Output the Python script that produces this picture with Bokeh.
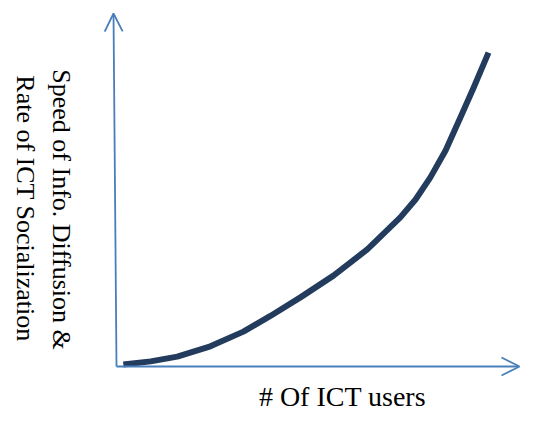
import math
from bokeh.plotting import figure
from bokeh.models import Range1d, Arrow, OpenHead, Label
from bokeh.embed import file_html
from bokeh.resources import INLINE

# ---- data (conceptual curve, arbitrary units 0..100) ----
ict_users = [1.8, 9, 16, 24.7, 33.4, 40.5, 48.4, 57.1, 66, 74.7, 78.7, 82.6, 86.6, 90.5, 94, 97.9]
diffusion_speed = [0.6, 1.6, 3.1, 6.3, 10.9, 15.8, 21.6, 28.4, 36.6, 46.6, 52.2, 59.1, 67.5, 77.8, 87.2, 98.1]

x_label = "# Of ICT users"
y_label_line1 = "Speed of Info. Diffusion &"
y_label_line2 = "Rate of ICT Socialization"

# ---- layout helpers (canvas pixel -> data units) ----
OX, OY = 116.0, 366.0   # origin on the canvas
SX, SY = 3.8, 3.2       # pixels per unit
W, H = 521, 412

def px(xp):
    return (xp - OX) / SX

def py(yp):
    return (OY - yp) / SY

p = figure(width=W, height=H,
           x_range=Range1d(px(0), px(W)),
           y_range=Range1d(py(H), py(0)),
           output_backend="svg", toolbar_location=None, min_border=0)
p.axis.visible = False
p.grid.visible = False
p.outline_line_color = None
p.background_fill_color = "white"
p.border_fill_color = "white"

axis_color = "#4a7ebb"
# y axis arrow
p.add_layout(Arrow(end=OpenHead(size=18, line_color=axis_color, line_width=1.8),
                   x_start=0, y_start=0, x_end=px(113), y_end=py(13),
                   line_color=axis_color, line_width=1.8))
# x axis arrow
p.add_layout(Arrow(end=OpenHead(size=18, line_color=axis_color, line_width=1.8),
                   x_start=0, y_start=0, x_end=px(519), y_end=0,
                   line_color=axis_color, line_width=1.8))

# curve
p.line(ict_users, diffusion_speed, line_color="#233c5e", line_width=6,
       line_join="round", line_cap="butt")

font = "Liberation Serif"
p.add_layout(Label(x=px(342), y=py(411), text=x_label, text_font=font,
                   text_font_size="28px", text_align="center",
                   text_baseline="bottom", text_color="black"))
p.add_layout(Label(x=px(61), y=py(209), text=y_label_line1, text_font=font,
                   text_font_size="26px", text_align="center",
                   text_baseline="middle", angle=-math.pi / 2, text_color="black"))
p.add_layout(Label(x=px(25), y=py(208), text=y_label_line2, text_font=font,
                   text_font_size="26px", text_align="center",
                   text_baseline="middle", angle=-math.pi / 2, text_color="black"))

open("out.html", "w").write(file_html(p, INLINE))
